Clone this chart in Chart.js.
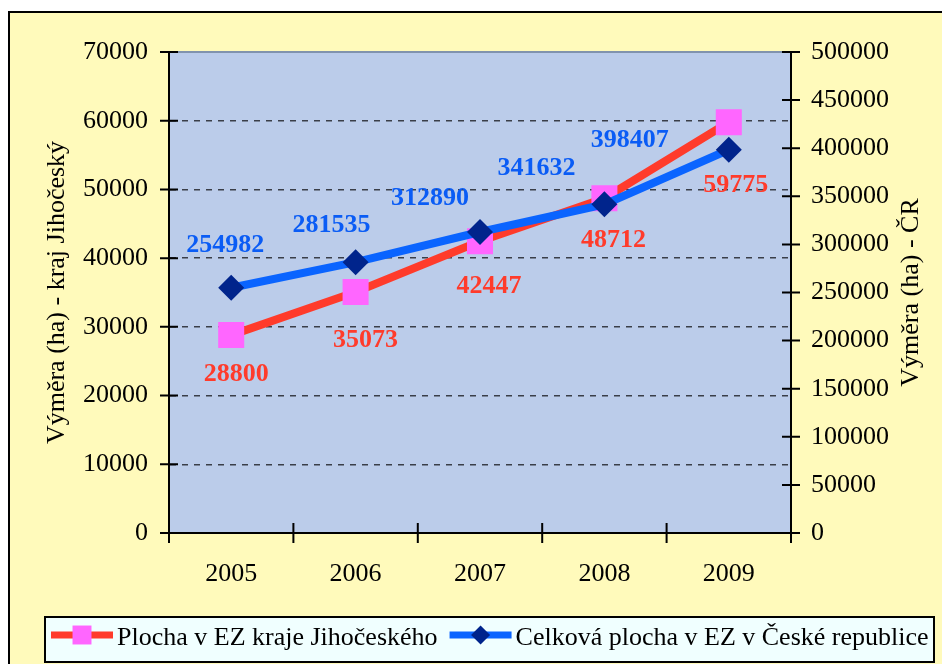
<!DOCTYPE html>
<html>
<head>
<meta charset="utf-8">
<script src="https://cdn.jsdelivr.net/npm/chart.js@4.4.1/dist/chart.umd.min.js"></script>
<style>
  html, body { margin: 0; padding: 0; background: #fff; overflow: hidden; }
  #frame { position: absolute; left: 8px; top: 11px; width: 960px; height: 700px; border: 2px solid #000; background: #fffabb; }
  #wrap { position: absolute; left: 0; top: 0; width: 942px; height: 664px; }
</style>
</head>
<body>
<div id="frame"></div>
<div id="wrap"><canvas id="chart"></canvas></div>
<script>
const years = ['2005', '2006', '2007', '2008', '2009'];
const krajValues = [28800, 35073, 42447, 48712, 59775];
const crValues = [254982, 281535, 312890, 341632, 398407];
const krajLabel = 'Plocha v EZ kraje Jihočeského';
const crLabel = 'Celková plocha v EZ v České republice';
const leftTitle = 'Výměra (ha) - kraj Jihočeský';
const rightTitle = 'Výměra (ha) - ČR';
const leftMax = 70000, leftStep = 10000;
const rightMax = 500000, rightStep = 50000;

// where each value label sits, relative to its point (y = text baseline)
const krajLabelOffsets = [[5, 46], [10, 55], [9, 52], [9, 49], [7, 70]];
const crLabelOffsets = [[-6, -36], [-24, -30], [-50, -27], [-68, -29], [-99, -3]];

const serif = "'Liberation Serif', 'Times New Roman', serif";
const textFont = { family: serif, size: 26 };
const plain = v => String(v);

// plot background, crossing tick marks, value labels, right title, legend
const decor = {
    id: 'decor',
    beforeDraw(chart) {
        const { ctx, chartArea: a } = chart;
        ctx.save();
        ctx.fillStyle = '#bbccea';
        ctx.fillRect(a.left, a.top, a.right - a.left, a.bottom - a.top);
        ctx.strokeStyle = '#8193ad';
        ctx.lineWidth = 2;
        ctx.beginPath();
        ctx.moveTo(a.left, a.top);
        ctx.lineTo(a.right, a.top);
        ctx.stroke();
        ctx.restore();
    },
    afterDraw(chart) {
        const { ctx, chartArea: a, scales } = chart;
        ctx.save();

        // tick marks crossing the axes
        ctx.strokeStyle = '#000';
        ctx.lineWidth = 2;
        ctx.beginPath();
        scales.y.ticks.forEach(t => {
            const py = scales.y.getPixelForValue(t.value);
            ctx.moveTo(a.left - 9, py);
            ctx.lineTo(a.left + 9, py);
        });
        scales.y2.ticks.forEach(t => {
            const py = scales.y2.getPixelForValue(t.value);
            ctx.moveTo(a.right - 9, py);
            ctx.lineTo(a.right + 9, py);
        });
        for (let i = 0; i <= years.length; i++) {
            const px = scales.x.getPixelForValue(i - 0.5);
            ctx.moveTo(px, a.bottom - 10);
            ctx.lineTo(px, a.bottom + 10);
        }
        ctx.stroke();

        // value labels
        ctx.font = `bold 26px ${serif}`;
        ctx.textAlign = 'center';
        ctx.textBaseline = 'alphabetic';
        const drawLabels = (dsIndex, values, offsets, color) => {
            ctx.fillStyle = color;
            chart.getDatasetMeta(dsIndex).data.forEach((pt, i) => {
                ctx.fillText(String(values[i]), pt.x + offsets[i][0], pt.y + offsets[i][1]);
            });
        };
        drawLabels(0, krajValues, krajLabelOffsets, '#ff3b2b');
        drawLabels(1, crValues, crLabelOffsets, '#0a5cf5');

        // right axis title, reading bottom to top
        ctx.save();
        ctx.font = `26px ${serif}`;
        ctx.fillStyle = '#000';
        ctx.textAlign = 'center';
        ctx.textBaseline = 'middle';
        ctx.translate(911, (a.top + a.bottom) / 2);
        ctx.rotate(-Math.PI / 2);
        ctx.fillText(rightTitle, 0, 0);
        ctx.restore();

        // legend box
        const lg = { left: 45, top: 617, right: 934, bottom: 662 };
        ctx.fillStyle = '#f0ffff';
        ctx.fillRect(lg.left, lg.top, lg.right - lg.left, lg.bottom - lg.top);
        ctx.strokeStyle = '#000';
        ctx.lineWidth = 2;
        ctx.strokeRect(lg.left, lg.top, lg.right - lg.left, lg.bottom - lg.top);

        const legendRadius = { rect: 13.4, rectRot: 9.5 };
        let x = 51;
        const cy = 635;
        ctx.font = `26px ${serif}`;
        ctx.textAlign = 'left';
        ctx.textBaseline = 'alphabetic';
        chart.data.datasets.forEach(ds => {
            ctx.strokeStyle = ds.borderColor;
            ctx.lineWidth = 7;
            ctx.beginPath();
            ctx.moveTo(x, cy);
            ctx.lineTo(x + 62, cy);
            ctx.stroke();
            ctx.fillStyle = ds.pointBackgroundColor;
            Chart.helpers.drawPoint(ctx, { pointStyle: ds.pointStyle, radius: legendRadius[ds.pointStyle], rotation: 0, borderWidth: 0 }, x + 31, cy);
            ctx.fillStyle = '#000';
            ctx.fillText(ds.label, x + 66, 645);
            x += 66 + ctx.measureText(ds.label).width + 12;
        });

        ctx.restore();
    }
};

new Chart(document.getElementById('chart'), {
    type: 'line',
    data: {
        labels: years,
        datasets: [{
            label: krajLabel,
            data: krajValues,
            yAxisID: 'y',
            borderColor: '#ff3b2b',
            backgroundColor: '#ff66ff',
            borderWidth: 8,
            tension: 0,
            pointStyle: 'rect',
            pointRadius: 18.4,
            pointHoverRadius: 18.4,
            pointBackgroundColor: '#ff66ff',
            pointBorderWidth: 0,
            order: 2
        }, {
            label: crLabel,
            data: crValues,
            yAxisID: 'y2',
            borderColor: '#0a64ff',
            backgroundColor: '#00248c',
            borderWidth: 8,
            tension: 0,
            pointStyle: 'rectRot',
            pointRadius: 13,
            pointHoverRadius: 13,
            pointBackgroundColor: '#00248c',
            pointBorderWidth: 0,
            order: 1
        }]
    },
    options: {
        responsive: true,
        maintainAspectRatio: false,
        animation: false,
        layout: { padding: { top: 52, left: 0, right: 0, bottom: 0 } },
        plugins: {
            legend: { display: false },
            tooltip: { enabled: false }
        },
        scales: {
            x: {
                type: 'category',
                offset: true,
                grid: { display: false },
                border: { display: true, color: '#000', width: 2 },
                ticks: { color: '#000', font: textFont, padding: 18 },
                afterFit(s) { s.height = 131; }
            },
            y: {
                position: 'left',
                min: 0,
                max: leftMax,
                ticks: { stepSize: leftStep, color: '#000', font: textFont, padding: 21, callback: plain },
                grid: {
                    drawTicks: false,
                    lineWidth: 1.5,
                    color: c => (c.tick && (c.tick.value === 0 || c.tick.value === leftMax)) ? 'rgba(0,0,0,0)' : '#3a3e48'
                },
                border: { display: true, color: '#000', width: 2, dash: [6, 6] },
                title: { display: true, text: leftTitle, color: '#000', font: textFont, padding: { top: 42, bottom: 0 } },
                afterFit(s) { s.width = 169; }
            },
            y2: {
                position: 'right',
                min: 0,
                max: rightMax,
                ticks: { stepSize: rightStep, color: '#000', font: textFont, padding: 20, callback: plain },
                grid: { display: false, drawTicks: false },
                border: { display: true, color: '#000', width: 2 },
                afterFit(s) { s.width = 151; }
            }
        }
    },
    plugins: [decor]
});
</script>
</body>
</html>
